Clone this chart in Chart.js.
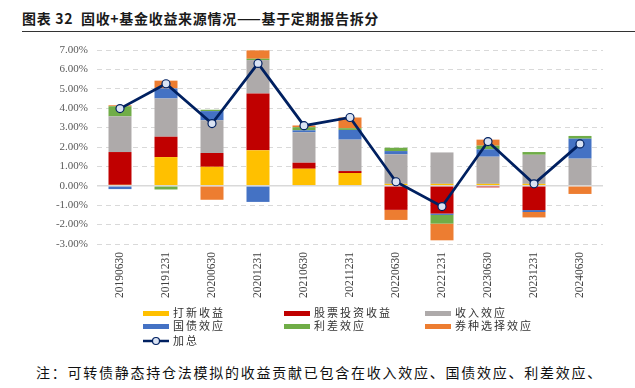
<!DOCTYPE html>
<html>
<head>
<meta charset="utf-8">
<script src="https://cdn.jsdelivr.net/npm/chart.js@4"></script>
<style>
  body { margin: 0; background: #fff; width: 635px; height: 388px; position: relative; overflow: hidden; }
  #title { position: absolute; left: 22px; top: 8px; font: bold 14px "Noto Sans CJK SC"; color: #1a1a1a; letter-spacing: 0.7px; }
  #rule { position: absolute; left: 22px; top: 31px; width: 613px; height: 0; border-top: 1.5px solid #333; }
  #wrap { position: absolute; left: 0; top: 0; width: 635px; height: 310px; }
  #legend { position: absolute; left: 0; top: 305px; font: 11px "Noto Sans CJK SC"; color: #333; letter-spacing: 2px; }
  .item { position: absolute; white-space: nowrap; line-height: 14px; }
  .sw { display: inline-block; width: 26px; height: 5px; vertical-align: middle; margin-right: 4px; margin-top: -2px; }
  #note { position: absolute; left: 36px; top: 362px; font: 14px "Noto Sans CJK SC"; color: #111; letter-spacing: 1.75px; white-space: nowrap; }
</style>
</head>
<body>
<div id="title">图表 32&nbsp; 固收+基金收益来源情况——基于定期报告拆分</div>
<div id="rule"></div>
<div id="wrap"><canvas id="myChart" width="635" height="310"></canvas></div>
<div id="legend"></div>
<div id="note">注：可转债静态持仓法模拟的收益贡献已包含在收入效应、国债效应、利差效应、</div>
<script>
// report dates
const periods = ["20190630", "20191231", "20200630", "20201231", "20210630", "20211231",
                 "20220630", "20221231", "20230630", "20231231", "20240630"];

// contributions in %
const ipoGain    = [0.05, 1.48, 0.98, 1.83, 0.88, 0.66, 0.10, 0.10, 0.10, 0.10, 0.00];
const stockGain  = [1.69, 1.05, 0.71, 2.93, 0.31, 0.10, -1.24, -1.43, -0.08, -1.25, 0.00];
const incomeEff  = [1.84, 1.97, 1.69, 1.72, 1.57, 1.62, 1.52, 1.62, 1.40, 1.50, 1.40];
const treasEff   = [-0.17, 0.52, 0.47, -0.83, 0.10, 0.50, 0.17, -0.07, 0.38, -0.10, 1.03];
const spreadEff  = [0.52, -0.19, 0.07, 0.07, 0.16, 0.09, 0.17, -0.45, 0.19, 0.14, 0.14];
const selectEff  = [0.05, 0.40, -0.72, 0.43, 0.09, 0.55, -0.52, -0.86, 0.31, -0.28, -0.42];
const totalRet   = [3.98, 5.26, 3.21, 6.31, 3.10, 3.52, 0.21, -1.07, 2.28, 0.10, 2.16];

const yTicks = [-3, -2, -1, 0, 1, 2, 3, 4, 5, 6, 7];

const barSeries = [
  { label: "打新收益", data: ipoGain, color: "#FFC000" },
  { label: "股票投资收益", data: stockGain, color: "#C00000" },
  { label: "收入效应", data: incomeEff, color: "#AEAAAA" },
  { label: "国债效应", data: treasEff, color: "#4472C4" },
  { label: "利差效应", data: spreadEff, color: "#70AD47" },
  { label: "券种选择效应", data: selectEff, color: "#ED7D31" }
];

var myDataset = [];
myDataset.push({
  type: "line",
  label: "加总",
  data: totalRet,
  borderColor: "#002060",
  borderWidth: 2.75,
  pointRadius: 4,
  pointBackgroundColor: "#DAE3F3",
  pointBorderColor: "#002060",
  pointBorderWidth: 1.2,
  order: 0
});
for (let s = 0; s < barSeries.length; s++) {
  myDataset.push({
    type: "bar",
    label: barSeries[s].label,
    data: barSeries[s].data,
    backgroundColor: barSeries[s].color,
    borderWidth: 0,
    stack: "a",
    order: 1,
    categoryPercentage: 1,
    barPercentage: 0.5
  });
}

window.myChart = new Chart(document.getElementById("myChart").getContext("2d"), {
  type: "bar",
  data: { labels: periods, datasets: myDataset },
  options: {
    responsive: false,
    animation: false,
    layout: { padding: { top: 50, right: 32, left: 0, bottom: 0 } },
    plugins: { legend: { display: false }, tooltip: { enabled: false } },
    scales: {
      x: {
        stacked: true,
        grid: { display: false, drawTicks: false },
        border: { display: false },
        ticks: { font: { family: "Liberation Serif", size: 11.5 }, color: "#404040", maxRotation: 90, minRotation: 90, padding: 8, autoSkip: false },
        afterFit: function (scale) { scale.height = 66; }
      },
      y: {
        stacked: true,
        min: -3, max: 7,
        afterBuildTicks: function (scale) { scale.ticks = yTicks.map(v => ({ value: v })); },
        grid: {
          drawTicks: false,
          color: "#D9D9D9",
          lineWidth: function (ctx) { return ctx.tick && ctx.tick.value === 0 ? 1.5 : 1; }
        },
        border: { display: false, dash: function (ctx) { return ctx.tick && ctx.tick.value === 0 ? [] : [5, 4]; } },
        ticks: {
          font: { family: "Liberation Serif", size: 11 }, color: "#595959", padding: 9,
          callback: function (v) { return v.toFixed(2) + "%"; }
        },
        afterFit: function (scale) { scale.width = 97; }
      }
    }
  }
});

// legend in three columns like the original
const legendPos = [
  [143, 0], [284, 0], [425, 0],
  [143, 13], [284, 13], [425, 13]
];
let legendHtml = "";
for (let s = 0; s < barSeries.length; s++) {
  legendHtml += '<div class="item" style="left:' + legendPos[s][0] + 'px;top:' + legendPos[s][1] + 'px">' +
    '<span class="sw" style="background:' + barSeries[s].color + '"></span>' + barSeries[s].label + '</div>';
}
legendHtml += '<div class="item" style="left:143px;top:28px">' +
  '<svg width="26" height="10" style="vertical-align:middle;margin-right:4px;margin-top:-2px">' +
  '<line x1="0" y1="5" x2="26" y2="5" stroke="#002060" stroke-width="2.5"/>' +
  '<circle cx="13" cy="5" r="3.5" fill="#DAE3F3" stroke="#002060" stroke-width="1.2"/></svg>加总</div>';
document.getElementById("legend").innerHTML = legendHtml;
</script>
</body>
</html>
